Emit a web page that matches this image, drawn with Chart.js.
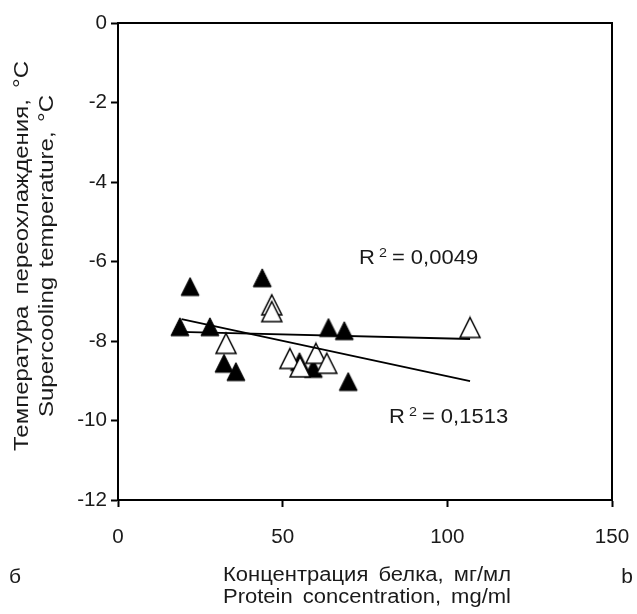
<!DOCTYPE html>
<html>
<head>
<meta charset="utf-8">
<script src="https://cdn.jsdelivr.net/npm/chart.js@4"></script>
<style>
    html, body { margin: 0; padding: 0; background: #fff; }
    #wrap { width: 637px; height: 614px; }
</style>
</head>
<body>
<div id="wrap"><canvas id="chart" width="637" height="614"></canvas></div>
<script>
// =========================
// Data
// =========================

// filled triangles (protein concentration, supercooling temperature)
const filledX = [18.8, 21.9, 27.9, 32.2, 35.8, 43.8, 55.1, 59.3, 63.9, 68.7, 69.9];
const filledY = [-7.64, -6.63, -7.64, -8.56, -8.77, -6.41, -8.52, -8.69, -7.66, -7.74, -9.02];

// open triangles
const openX = [32.8, 46.7, 46.7, 52.2, 55.3, 60.1, 63.4, 106.9];
const openY = [-8.06, -7.09, -7.26, -8.44, -8.65, -8.31, -8.56, -7.66];

// trend lines (end points)
const trendFlatX = [18.8, 106.9];
const trendFlatY = [-7.77, -7.95];
const trendSteepX = [19.3, 106.9];
const trendSteepY = [-7.45, -9.01];

const r2Labels = ["0,0049", "0,1513"];

const xTicks = [0, 50, 100, 150];
const yTicks = [0, -2, -4, -6, -8, -10, -12];

const xTitle = ["Концентрация белка, мг/мл", "Protein concentration, mg/ml"];
const yTitle = ["Температура переохлаждения, °C", "Supercooling temperature, °C"];

// =========================
// Helpers
// =========================

const FONT = "'Liberation Sans', Arial, sans-serif";
const TEXT = "#1a1a1a";

function toPoints(xs, ys) {
    return xs.map(function (x, i) { return { x: x, y: ys[i] }; });
}

function makeTriangle(w, h, fill, stroke, lw) {
    const pad = 2;
    const c = document.createElement("canvas");
    c.width = w + pad * 2;
    c.height = h + pad * 2;
    const g = c.getContext("2d");
    g.beginPath();
    g.moveTo(pad + w / 2, pad);
    g.lineTo(pad + w, pad + h);
    g.lineTo(pad, pad + h);
    g.closePath();
    g.fillStyle = fill;
    g.fill();
    g.lineWidth = lw;
    g.strokeStyle = stroke;
    g.stroke();
    return c;
}

const filledMarker = makeTriangle(18, 18, "#000", "#000", 1);
const openMarker = makeTriangle(20, 20, "#fff", "#000", 1.5);

// stretched text, words spread to fill "width" (0 = normal spaces)
function wideText(ctx, text, cx, cy, sx, width) {
    const words = text.split(" ");
    const sizes = words.map(function (w) { return ctx.measureText(w).width * sx; });
    const sum = sizes.reduce(function (a, b) { return a + b; }, 0);
    let gap = ctx.measureText(" ").width * sx;
    if (width && words.length > 1) gap = (width - sum) / (words.length - 1);
    const total = sum + gap * (words.length - 1);
    let x = cx - total / 2;
    words.forEach(function (w, i) {
        ctx.save();
        ctx.translate(x, cy);
        ctx.scale(sx, 1);
        ctx.textAlign = "left";
        ctx.fillText(w, 0, 0);
        ctx.restore();
        x += sizes[i] + gap;
    });
}

// =========================
// Text and frame
// =========================

const extras = {
    id: "extras",
    afterDatasetsDraw(chart) {
        const ctx = chart.ctx;
        const a = chart.chartArea;
        const xs = chart.scales.x;
        const ys = chart.scales.y;

        ctx.save();
        ctx.strokeStyle = "#000";
        ctx.lineWidth = 2;
        ctx.beginPath();
        ctx.moveTo(a.left, a.top);
        ctx.lineTo(a.right, a.top);
        ctx.lineTo(a.right, a.bottom);
        ctx.stroke();

        ctx.fillStyle = TEXT;
        ctx.textBaseline = "middle";
        ctx.font = "20px " + FONT;

        // tick labels
        yTicks.forEach(function (v) {
            const label = String(v);
            const w = ctx.measureText(label).width * 1.03;
            wideText(ctx, label, a.left - 11 - w / 2, ys.getPixelForValue(v), 1.03, 0);
        });
        xTicks.forEach(function (v) {
            wideText(ctx, String(v), xs.getPixelForValue(v), 537, 1.03, 0);
        });

        // axis titles
        const midX = (a.left + a.right) / 2 + 2;
        wideText(ctx, xTitle[0], midX, 575, 1.1, 288);
        wideText(ctx, xTitle[1], midX, 597.5, 1.1, 288);

        const midY = 256;
        ctx.save();
        ctx.translate(22.5, midY);
        ctx.rotate(-Math.PI / 2);
        wideText(ctx, yTitle[0], 0, 0, 1.2, 390);
        ctx.restore();
        ctx.save();
        ctx.translate(47.5, midY);
        ctx.rotate(-Math.PI / 2);
        wideText(ctx, yTitle[1], 0, 0, 1.2, 322);
        ctx.restore();

        // R² labels
        const spots = [
            { x: 73.2, y: -5.92 },
            { x: 82.3, y: -9.92 }
        ];
        spots.forEach(function (s, i) {
            let px = xs.getPixelForValue(s.x);
            const py = ys.getPixelForValue(s.y);
            ctx.font = "20px " + FONT;
            let w = ctx.measureText("R").width * 1.1;
            wideText(ctx, "R", px + w / 2, py, 1.1, 0);
            px += w + 4;
            ctx.font = "13px " + FONT;
            w = ctx.measureText("2").width * 1.1;
            wideText(ctx, "2", px + w / 2, py - 5, 1.1, 0);
            px += w + 5;
            ctx.font = "20px " + FONT;
            const rest = "= " + r2Labels[i];
            w = ctx.measureText(rest).width * 1.1;
            wideText(ctx, rest, px + w / 2, py, 1.1, 0);
        });

        // panel letters
        ctx.font = "20px " + FONT;
        wideText(ctx, "б", 15, 577, 1.05, 0);
        wideText(ctx, "b", 627, 577, 1.05, 0);
        ctx.restore();
    }
};

// =========================
// Chart
// =========================

const ctx = document.getElementById("chart");

const chart = new Chart(ctx, {
    type: "scatter",
    data: {
        datasets: [
            {
                label: "trend 1",
                type: "line",
                data: toPoints(trendFlatX, trendFlatY),
                borderColor: "#000",
                borderWidth: 1.8,
                pointRadius: 0,
                order: 0
            },
            {
                label: "trend 2",
                type: "line",
                data: toPoints(trendSteepX, trendSteepY),
                borderColor: "#000",
                borderWidth: 1.8,
                pointRadius: 0,
                order: 0
            },
            {
                label: "open",
                data: toPoints(openX, openY),
                pointStyle: openMarker,
                order: 1
            },
            {
                label: "filled",
                data: toPoints(filledX, filledY),
                pointStyle: filledMarker,
                order: 2
            }
        ]
    },
    options: {
        responsive: false,
        animation: false,
        devicePixelRatio: 1,
        layout: {
            padding: { left: 0, top: 23, right: 25, bottom: 0 }
        },
        plugins: {
            legend: { display: false },
            tooltip: { enabled: false }
        },
        scales: {
            x: {
                type: "linear",
                min: 0,
                max: 150,
                afterBuildTicks: function (s) {
                    s.ticks = xTicks.map(function (v) { return { value: v }; });
                },
                afterFit: function (s) { s.height = 114; },
                grid: {
                    drawOnChartArea: false,
                    drawTicks: true,
                    tickLength: 7,
                    tickWidth: 2,
                    tickColor: "#000"
                },
                border: { display: true, color: "#000", width: 2 },
                ticks: { display: false }
            },
            y: {
                type: "linear",
                min: -12,
                max: 0,
                afterBuildTicks: function (s) {
                    s.ticks = yTicks.map(function (v) { return { value: v }; });
                },
                afterFit: function (s) { s.width = 118; },
                grid: {
                    drawOnChartArea: false,
                    drawTicks: true,
                    tickLength: 7,
                    tickWidth: 2,
                    tickColor: "#000"
                },
                border: { display: true, color: "#000", width: 2 },
                ticks: { display: false }
            }
        }
    },
    plugins: [extras]
});
</script>
</body>
</html>
